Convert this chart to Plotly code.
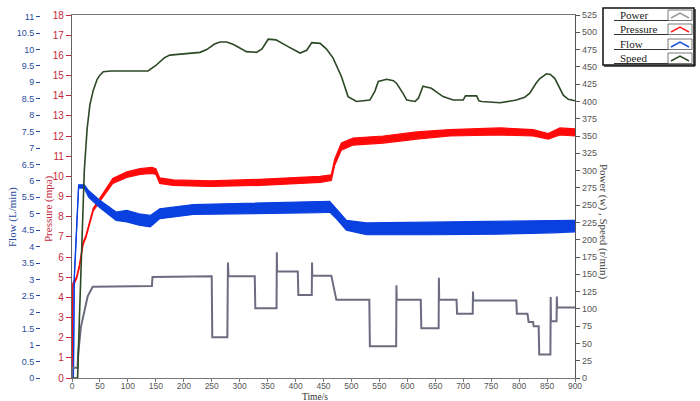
import plotly.graph_objects as go

# ---------------- data ----------------
time_ticks = list(range(0, 901, 50))
flow_ticks = [i * 0.5 for i in range(0, 23)]
pressure_ticks = list(range(0, 19))
right_ticks = list(range(0, 526, 25))
legend_names = ["Power", "Pressure", "Flow", "Speed"]

power_t = [0, 0.3, 10, 11, 16, 22, 28, 37, 143, 144, 250, 251, 278, 279, 280, 327, 328, 366, 366.5, 367,
           404, 405, 429, 429.5, 430, 464, 468, 473, 532, 533, 580, 580.5, 581, 624, 625, 656, 656.5, 657,
           688, 689, 717, 717.5, 718, 795, 796, 815, 817, 825, 826, 835, 836, 856, 856.5, 857, 867, 867.5,
           868, 900]
power_v = [0, 15, 15, 35, 74, 98, 118, 132, 133, 146, 147, 59, 59, 167, 147, 147, 101, 101, 182, 154,
           154, 120, 120, 167, 148, 148, 130, 113, 113, 46, 46, 134, 113, 113, 72, 72, 145, 113,
           113, 93, 93, 125, 112, 112, 93, 93, 81, 81, 75, 75, 34, 34, 117, 82, 82, 118,
           102, 102]

speed_t = [0, 10, 13, 16, 19, 22, 27, 32, 38, 45, 50, 56, 70, 136, 150, 165, 175, 200, 229, 241, 255, 265,
           277, 290, 312, 330, 340, 351, 365, 385, 408, 420, 429, 444, 455, 467, 482, 494, 509, 533, 542,
           548, 563, 575, 581, 592, 599, 614, 620, 628, 643, 655, 664, 682, 700, 704, 724, 728, 733, 766,
           795, 810, 819, 830, 837, 849, 856, 864, 872, 879, 888, 900]
speed_v = [0, 0, 80, 150, 230, 300, 360, 395, 416, 432, 438, 443, 444, 444, 452, 463, 467, 469, 471, 475, 483, 486,
           486, 482, 472, 471, 476, 490, 489, 480, 470, 474, 485, 484, 476, 463, 436, 407, 400, 402, 415,
           429, 432, 430, 426, 412, 402, 400, 405, 422, 419, 412, 407, 402, 402, 408, 408, 401, 400, 398,
           402, 406, 412, 426, 433, 440, 439, 433, 420, 409, 403, 401]

pressure_t = [0, 1.5, 8, 13, 20, 25, 38, 49, 60, 73, 98, 122, 143, 150, 157, 181, 247, 336, 444, 464, 470,
              482, 503, 557, 617, 676, 766, 825, 852, 873, 900]
pressure_lo = [0, 4.55, 4.9, 5.45, 6.62, 6.97, 8.28, 8.74, 9.15, 9.65, 9.95, 10.1, 10.15, 10.1, 9.65, 9.55, 9.5,
               9.55, 9.7, 9.8, 10.55, 11.3, 11.55, 11.65, 11.85, 12.0, 12.05, 12.0, 11.85, 12.05, 12.0]
pressure_hi = [0, 4.7, 5.0, 5.58, 6.74, 7.08, 8.42, 8.9, 9.35, 9.9, 10.22, 10.38, 10.45, 10.38, 9.92, 9.82, 9.78,
               9.85, 10.0, 10.08, 10.85, 11.65, 11.9, 12.0, 12.2, 12.32, 12.4, 12.32, 12.12, 12.4, 12.35]

flow_t = [0, 2.5, 4, 7, 11.8, 22, 30, 49, 79, 98, 120, 140, 157, 217, 336, 444, 461, 473, 491, 527, 646,
          766, 860, 900]
flow_lo = [0, 0, 2.95, 4.25, 5.78, 5.78, 5.5, 5.2, 4.8, 4.75, 4.65, 4.6, 4.85, 4.98, 5.0, 5.03, 5.05, 4.85,
           4.5, 4.36, 4.36, 4.38, 4.42, 4.45]
flow_hi = [0, 0, 3.05, 4.35, 5.88, 5.88, 5.7, 5.42, 5.05, 5.1, 5.0, 4.95, 5.15, 5.28, 5.32, 5.37, 5.38, 5.15,
           4.8, 4.72, 4.74, 4.76, 4.78, 4.8]

# ---------------- styles ----------------
C_POWER = "#6c6c80"
C_PRESS = "#ff0a0a"
C_FLOW = "#0a40e0"
C_SPEED = "#2c4826"
C_FLOW_TXT = "#2b4c9c"
C_PRESS_TXT = "#c4283c"
C_AX = "#555555"
SANS = "Liberation Sans, Arial, sans-serif"
SERIF = "Liberation Serif, Times New Roman, serif"

fig = go.Figure()

fig.add_trace(go.Scatter(x=power_t, y=power_v, name="Power", yaxis="y3", mode="lines",
                         line=dict(color=C_POWER, width=2)))

fig.add_trace(go.Scatter(x=pressure_t, y=pressure_hi, name="Pressure", yaxis="y", mode="lines",
                         line=dict(color=C_PRESS, width=1.2)))
fig.add_trace(go.Scatter(x=pressure_t, y=pressure_lo, name="Pressure", yaxis="y", mode="lines",
                         line=dict(color=C_PRESS, width=1.2), fill="tonexty", fillcolor=C_PRESS))

fig.add_trace(go.Scatter(x=flow_t, y=flow_hi, name="Flow", yaxis="y2", mode="lines",
                         line=dict(color=C_FLOW, width=1.2)))
fig.add_trace(go.Scatter(x=flow_t, y=flow_lo, name="Flow", yaxis="y2", mode="lines",
                         line=dict(color=C_FLOW, width=1.2), fill="tonexty", fillcolor=C_FLOW))

fig.add_trace(go.Scatter(x=speed_t, y=speed_v, name="Speed", yaxis="y3", mode="lines",
                         line=dict(color=C_SPEED, width=1.6)))

L, R, T, B = 40, 30, 15, 23
W, H = 700, 401
PW = W - L - R
PH = H - T - B


def px(xp):
    return (xp - L) / PW


def py(yp):
    return (H - B - yp) / PH


# ---- legend drawn as in the reference: text left, chevron icon right ----
shapes = []
annotations = []
shapes.append(dict(type="rect", xref="paper", yref="paper", x0=px(603), x1=px(694), y0=py(65), y1=py(8),
                   line=dict(color="#111", width=1.5), fillcolor="white", layer="above"))
shapes.append(dict(type="line", xref="paper", yref="paper", x0=px(604), x1=px(695), y0=py(66), y1=py(66),
                   line=dict(color="#222", width=1.5), layer="above"))
shapes.append(dict(type="line", xref="paper", yref="paper", x0=px(695), x1=px(695), y0=py(66), y1=py(9),
                   line=dict(color="#222", width=1.5), layer="above"))
row_tops = [9, 23, 38, 52]
row_bots = [20.5, 34.5, 49.5, 63.5]
icon_cols = ["#9a9a9a", "#ff2020", "#1a50e0", "#2c4826"]
for name, top, bot, col in zip(legend_names, row_tops, row_bots, icon_cols):
    annotations.append(dict(text=name, x=px(618), y=py((top + bot) / 2 + 0.5), xref="paper", yref="paper",
                            xanchor="left", yanchor="middle", showarrow=False,
                            font=dict(family=SERIF, size=11, color="#222")))
    shapes.append(dict(type="line", xref="paper", yref="paper", x0=px(614), x1=px(668), y0=py(bot), y1=py(bot),
                       line=dict(color="#333", width=1), layer="above"))
    shapes.append(dict(type="rect", xref="paper", yref="paper", x0=px(668), x1=px(692), y0=py(bot), y1=py(top + 1),
                       line=dict(color="#555", width=0.8), fillcolor="white", layer="above"))
    path = "M %f,%f L %f,%f L %f,%f" % (px(671), py(bot - 2.5), px(680), py(top + 4), px(689), py(bot - 2.5))
    shapes.append(dict(type="path", xref="paper", yref="paper", path=path,
                       line=dict(color=col, width=1.5), layer="above"))

annotations += [
    dict(text="Time/s", x=px(315), y=py(396.5), xref="paper", yref="paper", xanchor="center", yanchor="middle",
         showarrow=False, borderpad=0, font=dict(family=SERIF, size=9.5, color="#333")),
    dict(text="Flow (L/min)", x=px(12), y=py(217), xref="paper", yref="paper", xanchor="center", yanchor="middle",
         showarrow=False, textangle=-90, font=dict(family=SERIF, size=11, color=C_FLOW_TXT)),
    dict(text="Pressure (mpa)", x=px(48), y=py(209), xref="paper", yref="paper", xanchor="center", yanchor="middle",
         showarrow=False, textangle=-90, font=dict(family=SERIF, size=11, color=C_PRESS_TXT)),
    dict(text="Power (w) , Speed (r/min)", x=px(604), y=py(222), xref="paper", yref="paper",
         xanchor="center", yanchor="middle",
         showarrow=False, textangle=90, font=dict(family=SERIF, size=11, color="#444")),
]

fig.update_layout(
    width=W, height=H,
    margin=dict(l=L, r=R, t=T, b=B, autoexpand=False),
    paper_bgcolor="white", plot_bgcolor="white",
    showlegend=False,
    xaxis=dict(domain=[px(72), px(575)], range=[0, 900], tickvals=time_ticks,
               showline=True, linecolor="#777", linewidth=1.2, mirror=True,
               ticks="outside", ticklen=3, tickcolor="#777", ticklabelstandoff=-3,
               tickfont=dict(family=SANS, size=8.5, color=C_AX),
               showgrid=False, zeroline=False),
    yaxis=dict(range=[0, 18], tickvals=pressure_ticks,
               showline=True, linecolor="#666", linewidth=1.2,
               ticks="outside", ticklen=5, tickcolor=C_PRESS_TXT,
               tickfont=dict(family=SANS, size=10, color=C_PRESS_TXT),
               showgrid=False, zeroline=False),
    yaxis2=dict(range=[0, 11.05], tickvals=flow_ticks,
                ticktext=[("%g" % v) for v in flow_ticks],
                overlaying="y", side="left", anchor="free", position=0,
                showline=False, ticks="outside", ticklen=4, tickcolor=C_FLOW_TXT,
                tickfont=dict(family=SANS, size=9, color=C_FLOW_TXT),
                showgrid=False, zeroline=False),
    yaxis3=dict(range=[0, 525], tickvals=right_ticks,
                overlaying="y", side="right", anchor="x",
                showline=True, linecolor="#555", linewidth=1.2,
                ticks="outside", ticklen=4, tickcolor="#555",
                tickfont=dict(family=SANS, size=9, color=C_AX),
                showgrid=False, zeroline=False),
    shapes=shapes,
    annotations=annotations,
)

fig.write_html("out.html", config={"displayModeBar": False},
               post_script="document.body.style.margin='0';document.body.style.overflow='hidden';")
